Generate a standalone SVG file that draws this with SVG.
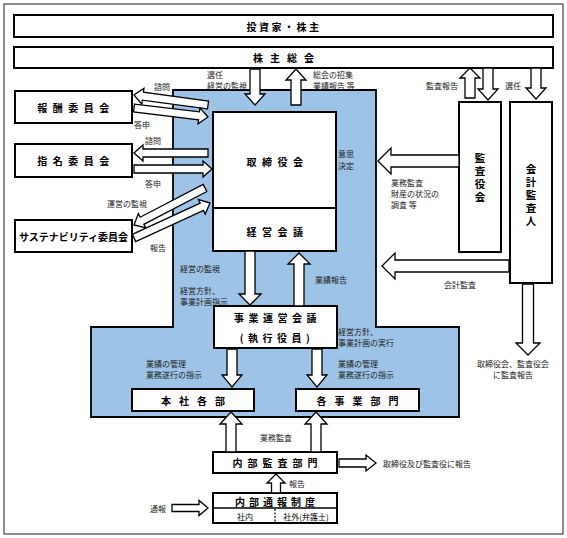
<svg xmlns="http://www.w3.org/2000/svg" width="567" height="538" viewBox="0 0 567 538">
<style>
.box{fill:#fff;stroke:#000;stroke-width:2}
.arr{fill:#fff;stroke:#000;stroke-width:1.3;stroke-linejoin:miter}
.t{font-family:"Noto Sans CJK JP","Noto Sans",sans-serif;font-weight:bold;font-size:10px;fill:#000;text-anchor:middle;dominant-baseline:central}
.v{font-family:"Noto Sans CJK JP","Noto Sans",sans-serif;font-weight:bold;font-size:10.5px;fill:#000;text-anchor:middle;writing-mode:vertical-rl;letter-spacing:2.5px}
.n{font-family:"Noto Sans CJK JP","Noto Sans",sans-serif;font-weight:normal;font-size:8px;fill:#000;text-anchor:middle;dominant-baseline:central}
.s{font-family:"Noto Sans CJK JP","Noto Sans",sans-serif;font-size:8px;fill:#222;dominant-baseline:central}
.m{text-anchor:middle}
</style>
<rect x="4" y="4" width="559" height="530" fill="#fff" stroke="#444" stroke-width="1.2"/>
<polygon points="173,90 376,90 376,327 459,327 459,417 91,417 91,327 173,327" fill="#9dc3e6" stroke="#000" stroke-width="1.8"/>

<g id="investors"><rect class="box" x="14" y="15" width="539" height="22"/><text class="t" x="284" y="26" letter-spacing="2.5">投資家・株主</text></g>
<g id="agm"><rect class="box" x="14" y="47" width="539" height="21"/><text class="t" x="287" y="57.5" letter-spacing="7">株主総会</text></g>
<g id="remuneration"><rect class="box" x="15" y="91" width="117" height="32"/><text class="t" x="76" y="107" letter-spacing="5.5">報酬委員会</text></g>
<g id="nomination"><rect class="box" x="15" y="144" width="117" height="33"/><text class="t" x="76" y="160.5" letter-spacing="5.5">指名委員会</text></g>
<g id="sustainability"><rect class="box" x="15" y="220" width="117" height="32"/><text class="t" x="73.5" y="236" font-size="10.5">サステナビリティ委員会</text></g>
<g id="board"><rect class="box" x="213" y="112" width="123" height="139"/><line x1="213" y1="208" x2="336" y2="208" stroke="#000" stroke-width="2"/><text class="t" x="277.5" y="161" letter-spacing="5.5">取締役会</text><text class="t" x="277.5" y="231" letter-spacing="5.5">経営会議</text></g>
<g id="auditboard"><rect class="box" x="459" y="102" width="42" height="150"/><text class="v" x="480" y="178.5">監査役会</text></g>
<g id="auditor"><rect class="box" x="510" y="102" width="42" height="181"/><text class="v" x="531" y="196">会計監査人</text></g>
<g id="opmeeting"><rect class="box" x="214" y="306" width="123" height="42"/><text class="t" x="277.5" y="317" letter-spacing="4.5">事業運営会議</text><text class="t" x="277" y="337" letter-spacing="4.5">(執行役員)</text></g>
<g id="hq"><rect class="box" x="132" y="389" width="122" height="22"/><text class="t" x="197" y="400" letter-spacing="8">本社各部</text></g>
<g id="divisions"><rect class="box" x="296" y="389" width="123" height="22"/><text class="t" x="361.5" y="400" letter-spacing="8">各事業部門</text></g>
<g id="internalaudit"><rect class="box" x="213" y="452" width="124" height="21"/><text class="t" x="277.5" y="462.5" letter-spacing="5">内部監査部門</text></g>
<g id="whistle"><rect class="box" x="213" y="493" width="124" height="30"/><line x1="213" y1="508" x2="337" y2="508" stroke="#000" stroke-width="1.5"/><line x1="275" y1="509" x2="275" y2="523" stroke="#000" stroke-width="1.2" stroke-dasharray="2,1.5"/><text class="t" x="277" y="501" font-size="11" letter-spacing="4">内部通報制度</text><text class="n" x="245" y="516">社内</text><text class="n" x="306" y="516">社外(弁護士)</text></g>

<g id="connectors">
<polygon class="arr" transform="translate(255,69) rotate(90)" points="0,-5 25,-5 25,-10 36,0 25,10 25,5 0,5"/>
<polygon class="arr" transform="translate(296,105) rotate(-90)" points="0,-5 25,-5 25,-10 36,0 25,10 25,5 0,5"/>
<polygon class="arr" transform="translate(470,98) rotate(-90)" points="0,-5 20,-5 20,-10 30,0 20,10 20,5 0,5"/>
<polygon class="arr" transform="translate(488,68) rotate(90)" points="0,-5 21,-5 21,-10 32,0 21,10 21,5 0,5"/>
<polygon class="arr" transform="translate(536,68) rotate(90)" points="0,-5 20,-5 20,-10 31,0 20,10 20,5 0,5"/>
<polygon class="arr" transform="translate(208,105) rotate(187.7)" points="0,-4 65.7,-4 65.7,-8 74.7,0 65.7,8 65.7,4 0,4"/>
<polygon class="arr" transform="translate(134,108) rotate(6.9)" points="0,-4 65.5,-4 65.5,-8 74.5,0 65.5,8 65.5,4 0,4"/>
<polygon class="arr" transform="translate(208,153) rotate(180)" points="0,-4 65,-4 65,-8 74,0 65,8 65,4 0,4"/>
<polygon class="arr" transform="translate(134,169)" points="0,-4 69,-4 69,-8 78,0 69,8 69,4 0,4"/>
<polygon class="arr" transform="translate(205,188) rotate(152.5)" points="0,-4 71,-4 71,-8 80,0 71,8 71,4 0,4"/>
<polygon class="arr" transform="translate(134,238) rotate(-24.7)" points="0,-4 74.7,-4 74.7,-8 83.7,0 74.7,8 74.7,4 0,4"/>
<polygon class="arr" transform="translate(459,161) rotate(180)" points="0,-6 68,-6 68,-13 81,0 68,13 68,6 0,6"/>
<polygon class="arr" transform="translate(509,266) rotate(180)" points="0,-6 114,-6 114,-13 127,0 114,13 114,6 0,6"/>
<polygon class="arr" transform="translate(528,284) rotate(90)" points="0,-5.5 59,-5.5 59,-12 71,0 59,12 59,5.5 0,5.5"/>
<polygon class="arr" transform="translate(250,251) rotate(90)" points="0,-5 43,-5 43,-11 54,0 43,11 43,5 0,5"/>
<polygon class="arr" transform="translate(299,306) rotate(-90)" points="0,-5 42,-5 42,-11 53,0 42,11 42,5 0,5"/>
<polygon class="arr" transform="translate(232,349) rotate(90)" points="0,-5 26,-5 26,-10 38,0 26,10 26,5 0,5"/>
<polygon class="arr" transform="translate(317,349) rotate(90)" points="0,-5 26,-5 26,-10 38,0 26,10 26,5 0,5"/>
<polygon class="arr" transform="translate(231,452) rotate(-90)" points="0,-5 28,-5 28,-11 40,0 28,11 28,5 0,5"/>
<polygon class="arr" transform="translate(316,452) rotate(-90)" points="0,-5 28,-5 28,-11 40,0 28,11 28,5 0,5"/>
<polygon class="arr" transform="translate(339,463)" points="0,-4 27,-4 27,-8 37,0 27,8 27,4 0,4"/>
<polygon class="arr" transform="translate(276,493) rotate(-90)" points="0,-4.5 10,-4.5 10,-9 19,0 10,9 10,4.5 0,4.5"/>
<polygon class="arr" transform="translate(172,508)" points="0,-3.5 27,-3.5 27,-7.5 36,0 27,7.5 27,3.5 0,3.5"/>
</g>

<g id="labels">
<text class="s" x="207" y="74">選任</text>
<text class="s" x="207" y="85">経営の監視</text>
<text class="s" x="313" y="74">総会の招集</text>
<text class="s" x="313" y="85">業績報告 等</text>
<text class="s m" x="442" y="85">監査報告</text>
<text class="s m" x="513" y="85">選任</text>
<text class="s m" x="162" y="86">諮問</text>
<text class="s m" x="142" y="124">答申</text>
<text class="s m" x="153" y="140">諮問</text>
<text class="s m" x="153" y="183">答申</text>
<text class="s m" x="127" y="203">運営の監視</text>
<text class="s m" x="158" y="247">報告</text>
<text class="s" x="338" y="153">意思</text>
<text class="s" x="338" y="165">決定</text>
<text class="s" x="391" y="182">業務監査</text>
<text class="s" x="391" y="193">財産の状況の</text>
<text class="s" x="391" y="204">調査 等</text>
<text class="s m" x="460" y="284">会計監査</text>
<text class="s" x="180" y="268">経営の監視</text>
<text class="s" x="180" y="290">経営方針、</text>
<text class="s" x="180" y="301">事業計画指示</text>
<text class="s" x="315" y="279">業績報告</text>
<text class="s" x="338" y="331">経営方針、</text>
<text class="s" x="338" y="342">事業計画の実行</text>
<text class="s" x="146" y="363">業績の管理</text>
<text class="s" x="146" y="374">業務遂行の指示</text>
<text class="s" x="338" y="363">業績の管理</text>
<text class="s" x="338" y="374">業務遂行の指示</text>
<text class="s m" x="513" y="363">取締役会、監査役会</text>
<text class="s m" x="513" y="374">に監査報告</text>
<text class="s m" x="276" y="437">業務監査</text>
<text class="s" x="383" y="463">取締役及び監査役に報告</text>
<text class="s" x="289" y="483">報告</text>
<text class="s" x="150" y="508">通報</text>
</g>
</svg>
